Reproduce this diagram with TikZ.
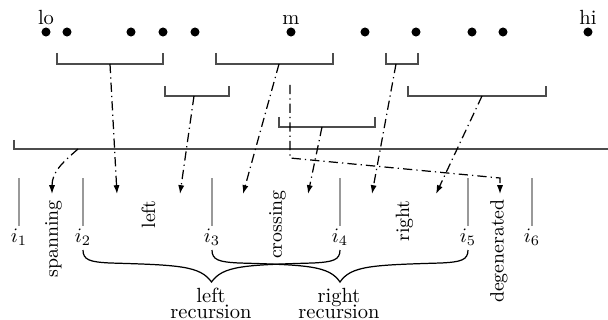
\documentclass[tikz,border=0pt]{standalone}
\usetikzlibrary{arrows.meta}
\begin{document}
\begin{tikzpicture}[x=0.4878pt,y=-0.4878pt,
  brk/.style={line width=0.75pt, black!70},
  dd/.style={line width=0.6pt, dash pattern=on 4.5pt off 2pt on 0.6pt off 2pt},
  arr/.style={dd,-{Latex[length=4.3pt,width=3pt]}},
  imark/.style={black!40, line width=0.5pt},
  dot/.style={circle,fill,inner sep=0pt,minimum size=4.4pt},
  vlab/.style={rotate=90,anchor=east,font=\fontsize{9.4}{11}\selectfont,inner sep=0pt},
  brace/.style={line width=0.6pt},
  lab/.style={anchor=base,inner sep=0pt},
  rec/.style={anchor=north,inner sep=0pt,align=center},
]
\useasboundingbox (0,0) rectangle (608,320);

% top labels
\node[lab] (lo) at (46,25) {lo};
\node[lab] (m) at (291,25) {m};
\node[lab] (hi) at (588,25) {hi};

% dots
\foreach \x [count=\i] in {46,67,131,163,195,291,365,416,472,503,588}
  \node[dot] (d\i) at (\x,32) {};

% brackets
\draw[brk] (57,53) -- (57,64) -- (163,64) -- (163,53);
\draw[brk] (165,86) -- (165,96) -- (229,96) -- (229,86);
\draw[brk] (216,53) -- (216,64) -- (333,64) -- (333,53);
\draw[brk] (386,53) -- (386,64) -- (418,64) -- (418,53);
\draw[brk] (408,86) -- (408,96) -- (546,96) -- (546,86);
\draw[brk] (279,117) -- (279,127) -- (375,127) -- (375,117);
\draw[brk] (14,140) -- (14,149) -- (608,149);

% connector start points
\coordinate (s1) at (110,64);
\coordinate (s2) at (194,96);
\coordinate (s3) at (279,64);
\coordinate (s4) at (396,64);
\coordinate (s5) at (482,96);
\coordinate (s6) at (322,127);
\coordinate (s0) at (78,149);
\coordinate (sm) at (290,85);
\coordinate (km) at (290,158);
\coordinate (kd) at (500,178);

% arrow targets
\coordinate (t0) at (52,194);
\coordinate (t1) at (117,194);
\coordinate (t2) at (180,194);
\coordinate (t3) at (243,194);
\coordinate (t6) at (308,194);
\coordinate (t4) at (372,194);
\coordinate (t5) at (436,194);
\coordinate (td) at (500,194);

\draw[arr] (s1) -- (t1);
\draw[arr] (s2) -- (t2);
\draw[arr] (s3) -- (t3);
\draw[arr] (s4) -- (t4);
\draw[arr] (s5) -- (t5);
\draw[arr] (s6) -- (t6);
\draw[arr] (s0) .. controls (62,163) and (52,172) .. (t0);
\draw[arr] (sm) -- (km) -- (kd) -- (td);

% index markers
\foreach \x/\n in {19/1,83/2,212/3,340/4,468/5,532/6}{
  \draw[imark] (\x,178) coordinate (it\n) -- (\x,226) coordinate (ib\n);
  \node[lab] (i\n) at (\x,242) {$i_{\n}$};
}

% rotated labels
\node[vlab] (spanning) at (53.5,200) {spanning};
\node[vlab] (left) at (148.5,200) {left};
\node[vlab] (crossing) at (277.5,190) {crossing};
\node[vlab] (right) at (404.5,200) {right};
\node[vlab] (degenerated) at (499,199) {degenerated};

% braces
\draw[brace] (83,250) .. controls (83,260) and (90,262) .. (110,263)
  .. controls (180,265) and (200,266) .. (211.5,282)
  .. controls (223,266) and (243,265) .. (313,263)
  .. controls (333,262) and (340,260) .. (340,250);
\draw[brace] (212,250) .. controls (212,260) and (219,262) .. (239,263)
  .. controls (309,265) and (329,266) .. (340,282)
  .. controls (351,266) and (371,265) .. (441,263)
  .. controls (461,262) and (468,260) .. (468,250);

\node[rec] (lrec) at (211,288) {left\\[-4.5pt]recursion};
\node[rec] (rrec) at (339,288) {right\\[-4.5pt]recursion};
\end{tikzpicture}
\end{document}
